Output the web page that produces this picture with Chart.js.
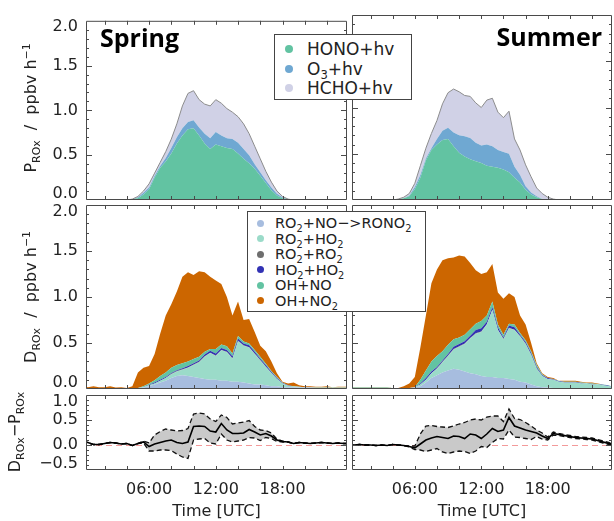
<!DOCTYPE html>
<html>
<head>
<meta charset="utf-8">
<script src="https://cdn.jsdelivr.net/npm/chart.js@4.4.0/dist/chart.umd.min.js"></script>
<style>
  html, body { margin: 0; padding: 0; background: #fff; }
  #wrap { position: relative; width: 614px; height: 521px; overflow: hidden; font-family: "DejaVu Sans", sans-serif; color: #222; }
  #wrap canvas { position: absolute; left: 0; top: 0; }
  .season { position: absolute; font-family: "Open Sans", sans-serif; font-weight: 700; font-size: 25px; line-height: 1; color: #000; }
  .legend { position: absolute; background: #fff; border: 1px solid #444; box-sizing: border-box; }
  .legend .dot { position: absolute; border-radius: 50%; }
  .legend .txt { position: absolute; white-space: nowrap; height: 20px; line-height: 20px; }
  .ytitle { position: absolute; white-space: nowrap; font-size: 16px; line-height: 20px; transform: translate(-50%, -50%) rotate(-90deg); }
  sub, sup { font-size: 68%; line-height: 0; }
</style>
</head>
<body>
<div id="wrap">
  <canvas id="prodSpring" width="614" height="521"></canvas>
  <canvas id="prodSummer" width="614" height="521"></canvas>
  <canvas id="destSpring" width="614" height="521"></canvas>
  <canvas id="destSummer" width="614" height="521"></canvas>
  <canvas id="diffSpring" width="614" height="521"></canvas>
  <canvas id="diffSummer" width="614" height="521"></canvas>

  <div class="season" style="left:100px;top:25px">Spring</div>
  <div class="season" style="right:12px;top:24px">Summer</div>

  <div class="legend" id="legProd" style="left:274px;top:34px;width:138px;height:66px"></div>
  <div class="legend" id="legDest" style="left:247px;top:211px;width:179px;height:101px"></div>

  <div class="ytitle" style="left:31px;top:108px">P<sub>ROx</sub>&nbsp;&nbsp;/&nbsp;&nbsp;ppbv h<sup>&minus;1</sup></div>
  <div class="ytitle" style="left:31px;top:297px">D<sub>ROx</sub>&nbsp;&nbsp;/&nbsp;&nbsp;ppbv h<sup>&minus;1</sup></div>
  <div class="ytitle" style="left:15px;top:432px">D<sub>ROx</sub>&minus;P<sub>ROx</sub></div>
</div>

<script>
// Time axis (hours UTC), half-hourly
const hours = [0,0.5,1,1.5,2,2.5,3,3.5, 4,4.5,5,5.5,6,6.5,7,7.5,
  8,8.5,9,9.5,10,10.5,11,11.5, 12,12.5,13,13.5,14,14.5,15,15.5,
  16,16.5,17,17.5,18,18.5,19,19.5, 20,20.5,21,21.5,22,22.5,23,23.5, 24];
const xTickHours = [6, 12, 18];
const xTickLabels = ['06:00', '12:00', '18:00'];

// Production terms (legend names + colours)
const prodLabels = ['HONO+hv', 'O<sub>3</sub>+hv', 'HCHO+hv'];
const prodColors = ['#62c3a2', '#6fa8d2', '#d0d1e6'];

// Destruction terms
const destLabels = ['RO<sub>2</sub>+NO\u2212>RONO<sub>2</sub>', 'RO<sub>2</sub>+HO<sub>2</sub>', 'RO<sub>2</sub>+RO<sub>2</sub>',
  'HO<sub>2</sub>+HO<sub>2</sub>', 'OH+NO', 'OH+NO<sub>2</sub>'];
const destColors = ['#a7bddf', '#9bdbc9', '#6e6e6e', '#3232b4', '#62c3a2', '#cc6600'];

// P_ROx, spring
const springHONO = [0,0,0,0,0,0,0,0, 0,0.01,0.02,0.06,0.12,0.25,0.36,0.43,
  0.52,0.63,0.72,0.79,0.80,0.72,0.63,0.57, 0.62,0.60,0.58,0.57,0.52,0.46,0.41,0.35,
  0.27,0.19,0.11,0.05,0.02,0.01,0,0, 0,0,0,0,0,0,0,0, 0];
const springO3 = [0,0,0,0,0,0,0,0, 0,0,0.01,0.02,0.02,0.02,0.02,0.04,
  0.06,0.07,0.08,0.08,0.09,0.09,0.11,0.12, 0.14,0.12,0.11,0.11,0.12,0.11,0.09,0.05,
  0.04,0.03,0.03,0.02,0.01,0,0,0, 0,0,0,0,0,0,0,0, 0];
const springHCHO = [0,0,0,0,0,0,0,0, 0,0,0.01,0.02,0.04,0.03,0.04,0.07,
  0.10,0.15,0.25,0.32,0.33,0.31,0.33,0.36, 0.36,0.36,0.33,0.30,0.29,0.28,0.24,0.20,
  0.15,0.10,0.06,0.03,0.01,0,0,0, 0,0,0,0,0,0,0,0, 0];

// P_ROx, summer
const summerHONO = [0,0,0,0,0,0,0,0, 0,0.01,0.02,0.04,0.12,0.24,0.43,0.54,
  0.60,0.65,0.66,0.58,0.51,0.47,0.44,0.42, 0.40,0.37,0.36,0.35,0.33,0.30,0.24,0.19,
  0.11,0.06,0.03,0.01,0,0,0,0, 0,0,0,0,0,0,0,0, 0];
const summerO3 = [0,0,0,0,0,0,0,0, 0,0,0,0.01,0.02,0.03,0.02,0.02,
  0.06,0.10,0.12,0.15,0.19,0.22,0.23,0.20, 0.19,0.23,0.22,0.19,0.19,0.20,0.12,0.08,
  0.04,0.02,0.01,0,0,0,0,0, 0,0,0,0,0,0,0,0, 0];
const summerHCHO = [0,0,0,0,0,0,0,0, 0,0,0.01,0.02,0.04,0.10,0.11,0.16,
  0.20,0.29,0.38,0.47,0.47,0.44,0.45,0.43, 0.41,0.48,0.52,0.41,0.37,0.46,0.30,0.27,
  0.23,0.17,0.09,0.06,0.03,0.01,0,0, 0,0,0,0,0,0,0,0, 0];

// D_ROx, spring
const springRONO2 = [0.01,0.01,0.01,0.01,0.01,0.01,0.01,0.01, 0.01,0.01,0.01,0.015,0.03,0.05,0.07,0.09,
  0.12,0.14,0.15,0.14,0.13,0.12,0.11,0.10, 0.10,0.09,0.09,0.08,0.08,0.07,0.06,0.05,
  0.05,0.04,0.03,0.03,0.02,0.02,0.02,0.015, 0.015,0.015,0.01,0.01,0.01,0.01,0.01,0.01, 0.01];
const springRO2HO2 = [0,0,0,0,0,0,0,0, 0,0,0,0.005,0.01,0.01,0.02,0.03,
  0.04,0.05,0.06,0.09,0.13,0.17,0.24,0.29, 0.26,0.33,0.31,0.25,0.44,0.40,0.39,0.33,
  0.26,0.20,0.14,0.08,0.04,0.015,0.01,0.01, 0.005,0.005,0.005,0.005,0.005,0.005,0.005,0.005, 0.005];
const springRO2RO2 = [0,0,0,0,0,0,0,0, 0,0,0,0,0,0,0,0,
  0.005,0.005,0.005,0.005,0.005,0.005,0.005,0.005, 0.005,0.005,0.005,0.005,0.005,0.005,0.005,0.005,
  0.005,0.005,0.005,0,0,0,0,0, 0,0,0,0,0,0,0,0, 0];
const springHO2HO2 = [0,0,0,0,0,0,0,0, 0,0,0,0,0.005,0.01,0.01,0.01,
  0.01,0.01,0.01,0.015,0.015,0.015,0.02,0.02, 0.02,0.02,0.02,0.02,0.025,0.02,0.02,0.02,
  0.015,0.015,0.01,0.01,0.005,0.005,0,0, 0,0,0,0,0,0,0,0, 0];
const springOHNO = [0,0,0,0,0,0,0,0, 0,0,0,0.01,0.015,0.025,0.04,0.05,
  0.055,0.055,0.055,0.05,0.045,0.04,0.03,0.02, 0.05,0.04,0.04,0.03,0.025,0.02,0.02,0.02,
  0.02,0.015,0.01,0.01,0.005,0,0,0, 0,0,0,0,0,0,0,0, 0];
const springOHNO2 = [0.03,0.01,0.02,0.01,0.01,0.02,0.005,0.01, 0,0.02,0.17,0.20,0.19,0.285,0.46,0.62,
  0.69,0.80,0.94,0.97,0.915,0.93,0.865,0.785, 0.745,0.655,0.535,0.415,0.375,0.235,0.265,0.195,
  0.12,0.135,0.105,0.04,0.01,0.02,0.04,0.015, 0.01,0.01,0.01,0.01,0.015,0.005,0.01,0.01, 0.01];

// D_ROx, summer
const summerRONO2 = [0.01,0.01,0.01,0.01,0.01,0.01,0.01,0.01, 0.01,0.01,0.01,0.01,0.015,0.03,0.07,0.12,
  0.15,0.18,0.20,0.22,0.21,0.19,0.17,0.16, 0.14,0.13,0.13,0.12,0.12,0.11,0.10,0.08,
  0.07,0.05,0.03,0.02,0.015,0.01,0.01,0.01, 0.01,0.01,0.01,0.01,0.01,0.01,0.01,0.01, 0.01];
const summerRO2HO2 = [0,0,0,0,0,0,0,0, 0,0,0,0,0.005,0.02,0.03,0.05,
  0.07,0.11,0.16,0.21,0.25,0.30,0.38,0.44, 0.48,0.57,0.73,0.52,0.42,0.55,0.54,0.49,
  0.42,0.32,0.19,0.12,0.095,0.09,0.07,0.06, 0.06,0.06,0.05,0.05,0.04,0.04,0.03,0.02, 0.01];
const summerRO2RO2 = [0,0,0,0,0,0,0,0, 0,0,0,0,0,0,0,0,
  0.005,0.005,0.005,0.005,0.005,0.005,0.005,0.005, 0.005,0.005,0.005,0.005,0.005,0.005,0.005,0.005,
  0.005,0.005,0.005,0,0,0,0,0, 0,0,0,0,0,0,0,0, 0];
const summerHO2HO2 = [0,0,0,0,0,0,0,0, 0,0,0,0,0,0.01,0.02,0.02,
  0.015,0.015,0.015,0.025,0.025,0.025,0.025,0.035, 0.035,0.025,0.025,0.025,0.015,0.025,0.025,0.015,
  0.015,0.015,0.015,0.01,0.01,0.005,0.005,0.005, 0.005,0.005,0.005,0,0.005,0,0.005,0.005, 0];
const summerOHNO = [0.005,0.005,0.005,0.005,0.005,0.005,0.005,0.005, 0,0,0,0,0,0.04,0.08,0.11,
  0.12,0.10,0.10,0.08,0.07,0.07,0.07,0.07, 0.08,0.07,0.06,0.03,0.03,0.02,0.03,0.02,
  0.02,0.02,0.02,0.01,0,0.005,0.005,0.005, 0.005,0.005,0.005,0.005,0.005,0.005,0.005,0.005, 0];
const summerOHNO2 = [0.005,0.005,0.005,0.005,0.005,0.005,0.005,0.005, 0,0,0.02,0.05,0.11,0.35,0.60,0.85,
  0.94,0.99,0.94,0.89,0.89,0.85,0.72,0.58, 0.51,0.47,0.41,0.35,0.39,0.33,0.30,0.19,
  0.17,0.09,0.02,0.01,0.01,0.01,0,0.01, 0.01,0.01,0.01,0.005,0.01,0.005,0,0, 0];

// D_ROx - P_ROx: mean with upper/lower bounds
const springDiff = [0.07,0.05,0.01,0.01,0.03,0.05,0.04,0.02, 0.03,-0.01,0.03,0.06,-0.03,0.02,0.05,0.08,
  0.10,0.05,0.03,0.06,0.37,0.38,0.37,0.28, 0.26,0.43,0.30,0.23,0.23,0.24,0.31,0.26,
  0.20,0.23,0.18,0.10,0.07,0.06,0.03,0.05, 0.04,0.03,0.04,0.05,0.04,0.03,0.04,0.03, 0.03];
const springDiffHi = [0.07,0.05,0.01,0.01,0.03,0.05,0.04,0.02, 0.03,-0.01,0.03,0.08,0.04,0.20,0.27,0.32,
  0.30,0.28,0.29,0.33,0.62,0.64,0.62,0.52, 0.47,0.60,0.55,0.42,0.44,0.46,0.49,0.37,
  0.30,0.29,0.24,0.12,0.08,0.06,0.03,0.05, 0.04,0.03,0.04,0.05,0.04,0.03,0.04,0.03, 0.03];
const springDiffLo = [0.07,0.05,0.01,0.01,0.03,0.05,0.04,0.02, 0.03,-0.01,0.03,0.04,-0.12,-0.12,-0.10,-0.10,
  -0.11,-0.18,-0.24,-0.27,0.10,0.12,0.13,0.04, 0.02,0.22,0.10,0.06,0.08,0.10,0.15,0.14,
  0.09,0.15,0.13,0.07,0.06,0.06,0.03,0.05, 0.04,0.03,0.04,0.05,0.04,0.03,0.04,0.03, 0.03];

const summerDiff = [0,0,0.01,0,0,-0.01,0,-0.01, 0.01,0,-0.01,-0.03,-0.06,0.02,0.10,0.14,
  0.17,0.15,0.13,0.18,0.17,0.13,0.22,0.20, 0.13,0.22,0.33,0.27,0.30,0.55,0.38,0.34,
  0.30,0.27,0.24,0.18,0.13,0.23,0.21,0.19, 0.17,0.15,0.14,0.13,0.12,0.09,0.06,0.03, 0.01];
const summerDiffHi = [0,0,0.01,0,0,-0.01,0,-0.01, 0.01,0,-0.01,-0.02,-0.02,0.22,0.38,0.39,
  0.37,0.36,0.35,0.38,0.42,0.45,0.50,0.52, 0.50,0.56,0.58,0.58,0.47,0.72,0.53,0.51,
  0.45,0.38,0.30,0.24,0.16,0.26,0.23,0.21, 0.19,0.17,0.16,0.15,0.14,0.11,0.08,0.05, 0.02];
const summerDiffLo = [0,0,0.01,0,0,-0.01,0,-0.01, 0.01,0,-0.01,-0.04,-0.09,-0.10,-0.13,-0.10,
  -0.07,-0.14,-0.17,-0.14,-0.12,-0.13,-0.17,-0.12, -0.03,-0.05,0.05,0.13,0.12,0.30,0.16,0.15,
  0.13,0.11,0.17,0.12,0.10,0.20,0.19,0.17, 0.15,0.13,0.12,0.11,0.10,0.07,0.04,0.01, 0.00];

// ---- layout of the six panels (page pixels) ----
const COLS = [{ left: 86, right: 347 }, { left: 352, right: 612 }];
const ROWS = [{ top: 15, bottom: 200 }, { top: 205, bottom: 389 }, { top: 395, bottom: 470 }];
const X_MIN = 0.33, X_MAX = 23.8;
const Y_AXIS_W = 86, X_AXIS_H = 51;
const PAGE_W = 614, PAGE_H = 521;

Chart.defaults.font.family = "'DejaVu Sans', sans-serif";
Chart.defaults.color = '#222';

const plain = s => s.replace(/<[^>]+>/g, '').replace('\u2212', '-');
const pts = vals => hours.map((h, i) => ({ x: h, y: vals[i] }));
const fmtY = v => (v < -1e-9 ? '\u2212' : '') + Math.abs(v).toFixed(1);

// frame, inward tick marks and the zero reference line
const framePlugin = {
  id: 'frame',
  beforeDraw(chart, args, opts) {
    if (!opts.zeroLine) return;
    const { ctx, chartArea: a, scales: { y } } = chart;
    const py = Math.round(y.getPixelForValue(0)) + 0.5;
    ctx.save();
    ctx.strokeStyle = '#f39a9a';
    ctx.lineWidth = 1.2;
    ctx.setLineDash([6, 4]);
    ctx.beginPath();
    ctx.moveTo(a.left, py);
    ctx.lineTo(a.right, py);
    ctx.stroke();
    ctx.restore();
  },
  afterDatasetsDraw(chart) {
    const { ctx, chartArea: a, scales: { x, y } } = chart;
    ctx.save();
    ctx.strokeStyle = '#4a4a4a';
    ctx.lineWidth = 1;
    ctx.beginPath();
    ctx.rect(a.left + 0.5, a.top + 0.5, a.width - 1, a.height - 1);
    for (let h = 2; h <= 22; h += 2) {
      const px = Math.round(x.getPixelForValue(h)) + 0.5;
      ctx.moveTo(px, a.bottom); ctx.lineTo(px, a.bottom - 4);
      ctx.moveTo(px, a.top); ctx.lineTo(px, a.top + 4);
    }
    const n = Math.round((y.max - y.min) / 0.1);
    for (let k = 1; k < n; k++) {
      const len = k % 5 === 0 ? 6 : 3;
      const py = Math.round(y.getPixelForValue(y.min + k * 0.1)) + 0.5;
      ctx.moveTo(a.left, py); ctx.lineTo(a.left + len, py);
      ctx.moveTo(a.right, py); ctx.lineTo(a.right - len, py);
    }
    ctx.stroke();
    ctx.restore();
  }
};

function makePanel(id, c, r, datasets, yMin, yMax) {
  const col = COLS[c], row = ROWS[r];
  const showY = c === 0, showX = r === 2;
  return new Chart(document.getElementById(id), {
    type: 'line',
    data: { datasets },
    options: {
      responsive: false,
      animation: false,
      events: [],
      layout: {
        padding: {
          left: showY ? col.left - Y_AXIS_W : col.left,
          top: row.top,
          right: PAGE_W - col.right,
          bottom: PAGE_H - row.bottom - (showX ? X_AXIS_H : 0)
        }
      },
      elements: { point: { radius: 0 }, line: { tension: 0 } },
      plugins: {
        legend: { display: false },
        tooltip: { enabled: false },
        filler: { drawTime: 'beforeDatasetsDraw' },
        frame: { zeroLine: r === 2 }
      },
      scales: {
        x: {
          type: 'linear', min: X_MIN, max: X_MAX, display: showX,
          afterFit: showX ? (s => { s.height = X_AXIS_H; }) : undefined,
          afterBuildTicks: s => { s.ticks = xTickHours.map(v => ({ value: v })); },
          grid: { display: false, drawTicks: false },
          border: { display: false },
          ticks: {
            autoSkip: false, maxRotation: 0, padding: 10, font: { size: 16 },
            callback: v => xTickLabels[xTickHours.indexOf(v)]
          },
          title: { display: showX, text: 'Time [UTC]', font: { size: 16 }, padding: { top: 0, bottom: 0 } }
        },
        y: {
          type: 'linear', stacked: r < 2, min: yMin, max: yMax, display: showY,
          afterFit: showY ? (s => { s.width = Y_AXIS_W; }) : undefined,
          grid: { display: false, drawTicks: false },
          border: { display: false },
          ticks: {
            stepSize: 0.5, padding: 8, autoSkip: false, font: { size: 16, lineHeight: 0.8 },
            // end labels are nudged inside the panel, as in the original
            callback: (v, i, ticks) => {
              const s = fmtY(v);
              if (i === 0) return [s, ''];
              if (i === ticks.length - 1) return ['', s];
              return s;
            }
          }
        }
      }
    },
    plugins: [framePlugin]
  });
}

function stackSets(labels, colors, series, outlineTop) {
  return series.map((vals, i) => {
    const top = outlineTop && i === series.length - 1;
    return {
      label: plain(labels[i]),
      data: pts(vals),
      backgroundColor: colors[i],
      borderColor: top ? '#8c8c8c' : 'rgba(0,0,0,0)',
      borderWidth: top ? 1 : 0,
      fill: i === 0 ? 'origin' : '-1'
    };
  });
}

function diffSets(mean, hi, lo) {
  return [
    { label: 'mean', data: pts(mean), borderColor: '#000', borderWidth: 1.6, fill: false },
    { label: 'upper', data: pts(hi), borderColor: '#111', borderWidth: 1.3, borderDash: [5, 3],
      fill: 2, backgroundColor: '#c9c9c9' },
    { label: 'lower', data: pts(lo), borderColor: '#111', borderWidth: 1.3, borderDash: [5, 3], fill: false }
  ];
}

makePanel('prodSpring', 0, 0, stackSets(prodLabels, prodColors, [springHONO, springO3, springHCHO], true), 0, 2);
makePanel('prodSummer', 1, 0, stackSets(prodLabels, prodColors, [summerHONO, summerO3, summerHCHO], true), 0, 2);
makePanel('destSpring', 0, 1, stackSets(destLabels, destColors,
  [springRONO2, springRO2HO2, springRO2RO2, springHO2HO2, springOHNO, springOHNO2], false), 0, 2);
makePanel('destSummer', 1, 1, stackSets(destLabels, destColors,
  [summerRONO2, summerRO2HO2, summerRO2RO2, summerHO2HO2, summerOHNO, summerOHNO2], false), 0, 2);
makePanel('diffSpring', 0, 2, diffSets(springDiff, springDiffHi, springDiffLo), -0.5, 1.0);
makePanel('diffSummer', 1, 2, diffSets(summerDiff, summerDiffHi, summerDiffLo), -0.5, 1.0);

// legends
function buildLegend(el, labels, colors, o) {
  labels.forEach((lab, i) => {
    const cy = o.y0 + i * o.rowH;
    const dot = document.createElement('span');
    dot.className = 'dot';
    dot.style.left = (o.dotX - o.dotD / 2) + 'px';
    dot.style.top = (cy - o.dotD / 2) + 'px';
    dot.style.width = o.dotD + 'px';
    dot.style.height = o.dotD + 'px';
    dot.style.background = colors[i];
    const txt = document.createElement('span');
    txt.className = 'txt';
    txt.style.left = o.textX + 'px';
    txt.style.top = (cy - 10) + 'px';
    txt.style.fontSize = o.size + 'px';
    txt.innerHTML = lab;
    el.appendChild(dot);
    el.appendChild(txt);
  });
}
buildLegend(document.getElementById('legProd'), prodLabels, prodColors,
  { y0: 14, rowH: 19.5, dotX: 14, dotD: 8, textX: 32, size: 17 });
buildLegend(document.getElementById('legDest'), destLabels, destColors,
  { y0: 11, rowH: 15.5, dotX: 12, dotD: 7, textX: 27, size: 14.5 });
</script>
</body>
</html>
